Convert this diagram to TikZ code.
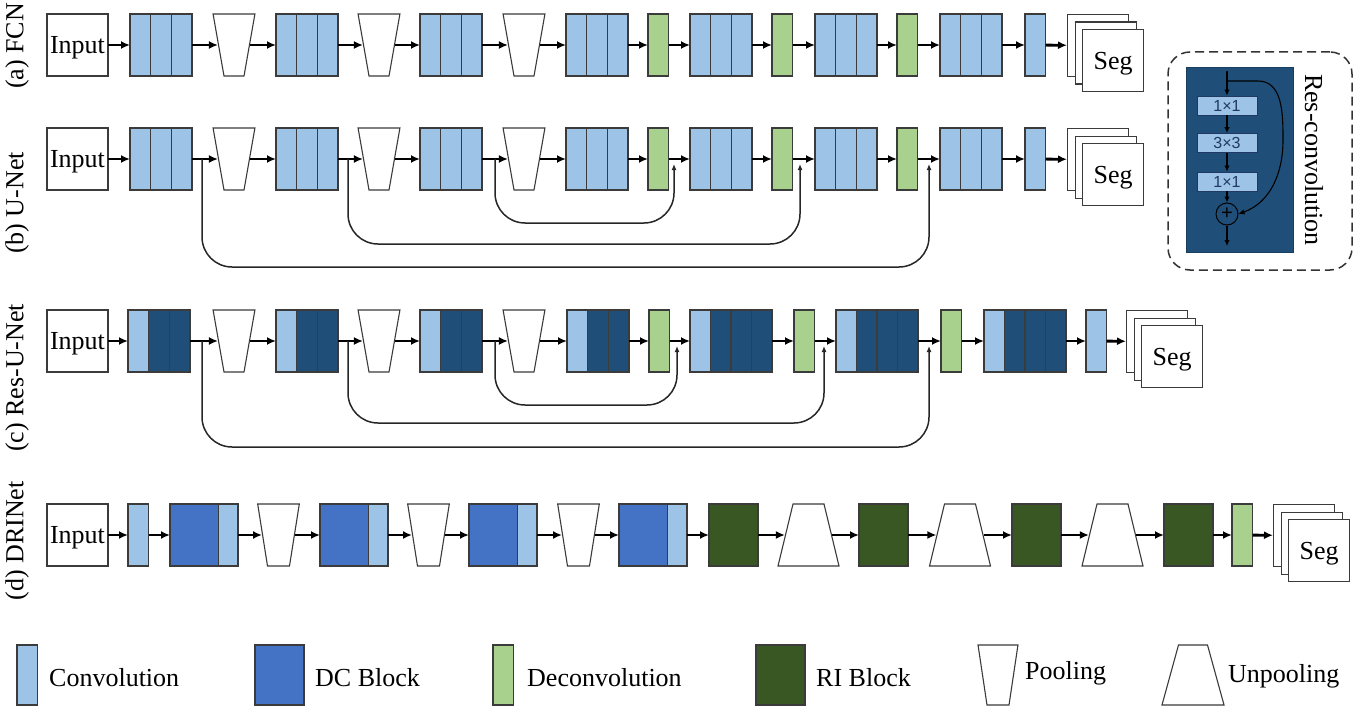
\documentclass[tikz,border=0pt]{standalone}
\usepackage{fontspec}
\setmainfont{Liberation Serif}
\newfontfamily\insetfont{Liberation Sans}
\usetikzlibrary{arrows.meta,shapes.geometric,calc}

\definecolor{convc}{HTML}{9DC3E6}
\definecolor{resc}{HTML}{1F4E79}
\definecolor{dcc}{HTML}{4472C4}
\definecolor{deconvc}{HTML}{A9D18E}
\definecolor{ric}{HTML}{385723}
\definecolor{edgec}{HTML}{3B3B3B}
\definecolor{kernc}{HTML}{1F3864}

\tikzset{
  lbl/.style={font=\fontsize{26}{30}\selectfont, inner sep=2pt},
  box/.style={draw=edgec, line width=1.1pt, anchor=west, minimum height=62pt, inner sep=0pt, outer sep=0pt},
  inbox/.style={box, fill=white, minimum width=61pt, lbl, inner sep=0pt, text depth=0pt},
  conv/.style={box, fill=convc, minimum width=20.5pt},
  deconv/.style={box, fill=deconvc, minimum width=20.5pt},
  ri/.style={box, fill=ric, minimum width=49pt},
  dc/.style={box, fill=dcc, minimum width=49pt},
  cells/.style n args={3}{path picture={
      \fill[convc] ($(path picture bounding box.south west)!#1!(path picture bounding box.south east)$) rectangle ($(path picture bounding box.north west)!#2!(path picture bounding box.north east)$);
      \foreach \p in {#3}
        \draw[edgec, line width=1.1pt] ($(path picture bounding box.south west)!\p!(path picture bounding box.south east)$) -- ($(path picture bounding box.north west)!\p!(path picture bounding box.north east)$);
    }},
  convthree/.style={box, fill=convc, minimum width=62pt, cells={0}{0}{1/3,2/3}},
  resthree/.style={box, fill=resc, minimum width=62pt, cells={0}{1/3}{1/3,2/3}},
  resfour/.style={box, fill=resc, minimum width=82pt, cells={0}{1/4}{1/4,1/2,3/4}},
  dcconv/.style={box, fill=dcc, minimum width=68pt, cells={0.71}{1}{0.71}},
  pool/.style={trapezium, shape border rotate=180, trapezium left angle=80, trapezium right angle=80,
    draw=edgec, fill=white, line width=1.1pt, minimum width=0pt, minimum height=0pt, inner xsep=10pt, inner ysep=31pt},
  unpool/.style={pool, shape border rotate=0, trapezium left angle=76.4, trapezium right angle=76.4, inner xsep=15.5pt},
  page/.style={draw=edgec, fill=white, line width=1.1pt, anchor=north west, minimum width=61pt, minimum height=62pt, inner sep=0pt, lbl, text depth=0pt},
  flow/.style={-{Latex[length=9pt,width=8pt]}, line width=2.8pt, black},
  skipline/.style={-{Latex[length=6pt,width=5pt]}, line width=1.5pt, black!85, rounded corners=30pt},
  rcframe/.style={draw=black!80, dashed, dash pattern=on 9pt off 5pt, line width=1.5pt, rounded corners=22pt, minimum width=184pt, minimum height=218pt},
  rcbody/.style={draw=resc!80!black, fill=resc, line width=0.8pt, minimum width=107pt, minimum height=185pt},
  kern/.style={draw=kernc, fill=convc, line width=0.8pt, minimum width=60pt, minimum height=19pt, inner sep=0pt, text=kernc, font=\insetfont\fontsize{16}{16}\selectfont},
  addc/.style={circle, draw=black, line width=1pt, minimum size=22pt, inner sep=0pt, font=\insetfont\fontsize{20}{20}\selectfont},
  rcflow/.style={-{Latex[length=6pt,width=5.5pt]}, line width=1.1pt, black},
}

\begin{document}
\begin{tikzpicture}[x=1pt,y=-1pt]
\useasboundingbox (0,0) rectangle (1369,709);

% row labels
\node[lbl, rotate=90] (lab-a) at (17,46) {(a) FCN};
\node[lbl, rotate=90] (lab-b) at (17,203) {(b) U-Net};
\node[lbl, rotate=90] (lab-c) at (17,378) {(c) Res-U-Net};
\node[lbl, rotate=90] (lab-d) at (17,541) {(d) DRINet};

% (a) FCN
\node[inbox] (a-in) at (47,45) {Input};
\node[convthree] (a-c1) at (130,45) {};
\node[pool] (a-p1) at (234,45) {};
\node[convthree] (a-c2) at (276,45) {};
\node[pool] (a-p2) at (379,45) {};
\node[convthree] (a-c3) at (420,45) {};
\node[pool] (a-p3) at (524,45) {};
\node[convthree] (a-c4) at (566,45) {};
\node[deconv] (a-d1) at (648,45) {};
\node[convthree] (a-c5) at (690,45) {};
\node[deconv] (a-d2) at (772,45) {};
\node[convthree] (a-c6) at (815,45) {};
\node[deconv] (a-d3) at (897,45) {};
\node[convthree] (a-c7) at (940,45) {};
\node[conv] (a-c8) at (1025,45) {};
\node[page] (a-s1) at (1067,14) {};
\node[page] (a-s2) at (1074.5,21.5) {};
\node[page] (a-s3) at (1082,29) {Seg};
\draw[flow] (a-in) edge (a-c1) (a-c1) edge (a-p1) (a-p1) edge (a-c2) (a-c2) edge (a-p2)
  (a-p2) edge (a-c3) (a-c3) edge (a-p3) (a-p3) edge (a-c4) (a-c4) edge (a-d1)
  (a-d1) edge (a-c5) (a-c5) edge (a-d2) (a-d2) edge (a-c6) (a-c6) edge (a-d3)
  (a-d3) edge (a-c7) (a-c7) edge (a-c8) (a-c8) edge (a-s1);

% (b) U-Net
\node[inbox] (b-in) at (47,159) {Input};
\node[convthree] (b-c1) at (130,159) {};
\node[pool] (b-p1) at (234,159) {};
\node[convthree] (b-c2) at (276,159) {};
\node[pool] (b-p2) at (379,159) {};
\node[convthree] (b-c3) at (420,159) {};
\node[pool] (b-p3) at (524,159) {};
\node[convthree] (b-c4) at (566,159) {};
\node[deconv] (b-d1) at (648,159) {};
\node[convthree] (b-c5) at (690,159) {};
\node[deconv] (b-d2) at (772,159) {};
\node[convthree] (b-c6) at (815,159) {};
\node[deconv] (b-d3) at (897,159) {};
\node[convthree] (b-c7) at (940,159) {};
\node[conv] (b-c8) at (1025,159) {};
\node[page] (b-s1) at (1067,128) {};
\node[page] (b-s2) at (1074.5,135.5) {};
\node[page] (b-s3) at (1082,143) {Seg};
\draw[flow] (b-in) edge (b-c1) (b-c1) edge (b-p1) (b-p1) edge (b-c2) (b-c2) edge (b-p2)
  (b-p2) edge (b-c3) (b-c3) edge (b-p3) (b-p3) edge (b-c4) (b-c4) edge (b-d1)
  (b-d1) edge (b-c5) (b-c5) edge (b-d2) (b-d2) edge (b-c6) (b-c6) edge (b-d3)
  (b-d3) edge (b-c7) (b-c7) edge (b-c8) (b-c8) edge (b-s1);
\coordinate (b-s1k) at (202,159);
\coordinate (b-e1k) at (929,164);
\coordinate (b-s2k) at (348,159);
\coordinate (b-e2k) at (800,164);
\coordinate (b-s3k) at (495,159);
\coordinate (b-e3k) at (674,164);
\draw[skipline] (b-s1k) -- ++(0,108) -| (b-e1k);
\draw[skipline] (b-s2k) -- ++(0,85) -| (b-e2k);
\draw[skipline] (b-s3k) -- ++(0,64) -| (b-e3k);

% (c) Res-U-Net
\node[inbox] (c-in) at (47,341) {Input};
\node[resthree] (c-c1) at (128,341) {};
\node[pool] (c-p1) at (234,341) {};
\node[resthree] (c-c2) at (276,341) {};
\node[pool] (c-p2) at (379,341) {};
\node[resthree] (c-c3) at (420,341) {};
\node[pool] (c-p3) at (524,341) {};
\node[resthree] (c-c4) at (567,341) {};
\node[deconv] (c-d1) at (649,341) {};
\node[resfour] (c-c5) at (690,341) {};
\node[deconv] (c-d2) at (794,341) {};
\node[resfour] (c-c6) at (836,341) {};
\node[deconv] (c-d3) at (941,341) {};
\node[resfour] (c-c7) at (984,341) {};
\node[conv] (c-c8) at (1086,341) {};
\node[page] (c-s1) at (1126,310) {};
\node[page] (c-s2) at (1133.5,317.5) {};
\node[page] (c-s3) at (1141,325) {Seg};
\draw[flow] (c-in) edge (c-c1) (c-c1) edge (c-p1) (c-p1) edge (c-c2) (c-c2) edge (c-p2)
  (c-p2) edge (c-c3) (c-c3) edge (c-p3) (c-p3) edge (c-c4) (c-c4) edge (c-d1)
  (c-d1) edge (c-c5) (c-c5) edge (c-d2) (c-d2) edge (c-c6) (c-c6) edge (c-d3)
  (c-d3) edge (c-c7) (c-c7) edge (c-c8) (c-c8) edge (c-s1);
\coordinate (c-s1k) at (202,341);
\coordinate (c-e1k) at (929,346);
\coordinate (c-s2k) at (348,341);
\coordinate (c-e2k) at (824,346);
\coordinate (c-s3k) at (495,341);
\coordinate (c-e3k) at (677,346);
\draw[skipline] (c-s1k) -- ++(0,106) -| (c-e1k);
\draw[skipline] (c-s2k) -- ++(0,82) -| (c-e2k);
\draw[skipline] (c-s3k) -- ++(0,64) -| (c-e3k);

% (d) DRINet
\node[inbox] (d-in) at (47,535) {Input};
\node[conv] (d-c1) at (128,535) {};
\node[dcconv] (d-dc1) at (170,535) {};
\node[pool, trapezium left angle=81, trapezium right angle=81, inner xsep=11pt] (d-p1) at (278.5,535) {};
\node[dcconv] (d-dc2) at (320,535) {};
\node[pool, trapezium left angle=81, trapezium right angle=81, inner xsep=11pt] (d-p2) at (428.5,535) {};
\node[dcconv] (d-dc3) at (469,535) {};
\node[pool, trapezium left angle=81, trapezium right angle=81, inner xsep=11pt] (d-p3) at (578.5,535) {};
\node[dcconv] (d-dc4) at (619,535) {};
\node[ri] (d-r1) at (709,535) {};
\node[unpool] (d-u1) at (808.5,535) {};
\node[ri] (d-r2) at (859,535) {};
\node[unpool] (d-u2) at (960,535) {};
\node[ri] (d-r3) at (1012,535) {};
\node[unpool] (d-u3) at (1112.5,535) {};
\node[ri] (d-r4) at (1164,535) {};
\node[deconv] (d-d1) at (1232,535) {};
\node[page] (d-s1) at (1273,504) {};
\node[page] (d-s2) at (1280.5,511.5) {};
\node[page] (d-s3) at (1288,519) {Seg};
\draw[flow] (d-in) edge (d-c1) (d-c1) edge (d-dc1) (d-dc1) edge (d-p1) (d-p1) edge (d-dc2)
  (d-dc2) edge (d-p2) (d-p2) edge (d-dc3) (d-dc3) edge (d-p3) (d-p3) edge (d-dc4)
  (d-dc4) edge (d-r1) (d-r1) edge (d-u1) (d-u1) edge (d-r2) (d-r2) edge (d-u2)
  (d-u2) edge (d-r3) (d-r3) edge (d-u3) (d-u3) edge (d-r4) (d-r4) edge (d-d1)
  (d-d1) edge (d-s1);

% res-convolution inset
\node[rcframe] (rc-frame) at (1260,161) {};
\node[rcbody] (rc-body) at (1239.5,159.5) {};
\node[kern] (rc-k1) at (1227,105.5) {1×1};
\node[kern] (rc-k3) at (1227,143) {3×3};
\node[kern] (rc-k1b) at (1227,181.5) {1×1};
\node[addc] (rc-add) at (1227,214) {+};
\coordinate (rc-in) at (1227,71);
\coordinate (rc-tap) at (1227,81);
\coordinate (rc-out) at (1227,246);
\draw[rcflow] (rc-in) -- (rc-k1);
\draw[rcflow] (rc-k1) -- (rc-k3);
\draw[rcflow] (rc-k3) -- (rc-k1b);
\draw[rcflow] (rc-k1b) -- (rc-add);
\draw[rcflow] (rc-add) -- (rc-out);
\draw[rcflow] (rc-tap) -- (1258,81) to[out=0,in=90] (1283,140) to[out=-90,in=20] (rc-add.east);
\node[lbl, rotate=-90] (rc-label) at (1314,160) {Res-convolution};

% legend
\node[conv, minimum height=60pt] (lg-conv) at (17,675) {};
\node[lbl, anchor=west] (lg-conv-t) at (47,678) {Convolution};
\node[dc, minimum height=60pt] (lg-dc) at (255,675) {};
\node[lbl, anchor=west] (lg-dc-t) at (313,678) {DC Block};
\node[deconv, minimum height=60pt] (lg-deconv) at (493,675) {};
\node[lbl, anchor=west] (lg-deconv-t) at (525,678) {Deconvolution};
\node[ri, minimum height=60pt] (lg-ri) at (756,675) {};
\node[lbl, anchor=west] (lg-ri-t) at (814,678) {RI Block};
\node[pool, inner ysep=30pt, inner xsep=11pt, trapezium left angle=81.5, trapezium right angle=81.5] (lg-pool) at (998,675) {};
\node[lbl, anchor=west] (lg-pool-t) at (1023,673) {Pooling};
\node[unpool, inner ysep=30pt, inner xsep=14.5pt, trapezium left angle=74.6, trapezium right angle=74.6] (lg-unpool) at (1193,675) {};
\node[lbl, anchor=west] (lg-unpool-t) at (1226,676) {Unpooling};
\end{tikzpicture}
\end{document}
